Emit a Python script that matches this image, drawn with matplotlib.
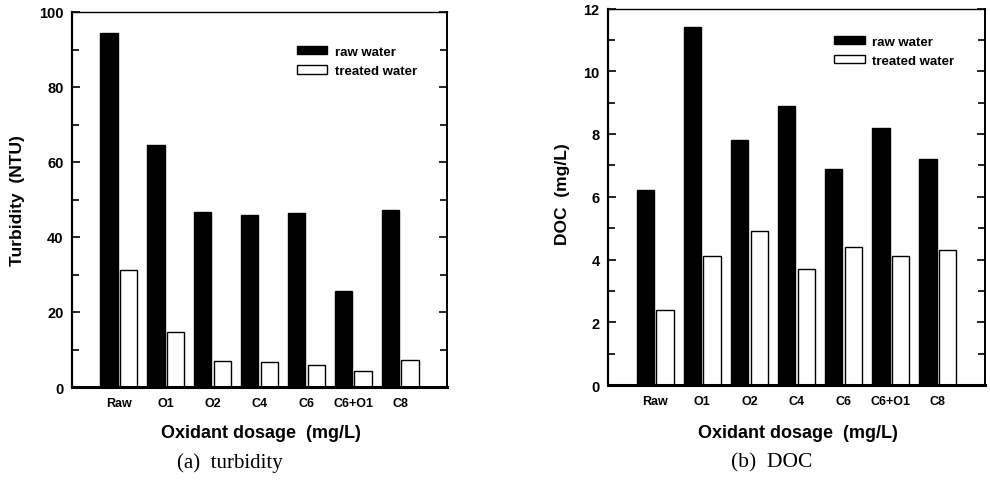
import numpy as np
import matplotlib
matplotlib.use("Agg")
import matplotlib.pyplot as plt
from matplotlib.ticker import MultipleLocator

plt.rcParams['font.family'] = ['Liberation Sans', 'DejaVu Sans']

categories = ['Raw', 'O1', 'O2', 'C4', 'C6', 'C6+O1', 'C8']
turb_raw = [94.5, 64.4, 46.8, 45.8, 46.4, 25.7, 47.3]
turb_treated = [31.2, 14.6, 6.9, 6.6, 6.0, 4.3, 7.2]
doc_raw = [6.2, 11.4, 7.8, 8.9, 6.9, 8.2, 7.2]
doc_treated = [2.4, 4.1, 4.9, 3.7, 4.4, 4.1, 4.3]


def bar_panel(ax, raw, treated, ymax, major, minor, ylabel, leg_top):
    x = np.arange(1, len(categories) + 1)
    w = 0.37
    ax.bar(x - 0.21, raw, w, color='black', edgecolor='black', linewidth=1, label='raw water')
    ax.bar(x + 0.21, treated, w, color='white', edgecolor='black', linewidth=1, label='treated water')
    ax.set_xlim(0, 8)
    ax.set_ylim(0, ymax)
    ax.set_xticks(x)
    ax.set_xticklabels(categories, fontsize=9, fontweight='bold')
    ax.tick_params(axis='x', length=0, pad=7)
    ax.yaxis.set_major_locator(MultipleLocator(major))
    ax.yaxis.set_minor_locator(MultipleLocator(minor))
    ax.tick_params(axis='y', which='both', direction='in', left=True, right=True,
                   width=1.2, labelsize=10.5, pad=6)
    ax.tick_params(axis='y', which='major', length=6)
    ax.tick_params(axis='y', which='minor', length=5)
    for t in ax.get_yticklabels():
        t.set_fontweight('bold')
    ax.spines['bottom'].set_linewidth(2.2)
    ax.spines['left'].set_linewidth(1.6)
    ax.spines['right'].set_linewidth(1.4)
    ax.spines['top'].set_linewidth(1.0)
    ax.set_ylabel(ylabel, fontsize=12.5, fontweight='bold')
    ax.set_xlabel('Oxidant dosage  (mg/L)', fontsize=13, fontweight='bold')
    ax.xaxis.label.set_va('center')
    ax.legend(loc='upper left', bbox_to_anchor=(0.6, leg_top), frameon=False,
              prop={'size': 9.5, 'weight': 'bold'}, handlelength=2.3,
              handleheight=0.6, handletextpad=0.6, labelspacing=0.55,
              borderpad=0, borderaxespad=0)


fig = plt.figure(figsize=(9.9, 4.81), dpi=100)
ax1 = fig.add_axes([72 / 990, 1 - 388 / 481, 375 / 990, 375 / 481])
ax2 = fig.add_axes([608 / 990, 1 - 386 / 481, 377 / 990, 376.5 / 481])

bar_panel(ax1, turb_raw, turb_treated, 100, 20, 10, 'Turbidity  (NTU)', 0.91)
bar_panel(ax2, doc_raw, doc_treated, 12, 2, 1, 'DOC  (mg/L)', 0.928)

ax1.yaxis.set_label_coords(-0.125, 0.5)
ax2.yaxis.set_label_coords(-0.10, 0.51)
ax1.xaxis.set_label_coords(0.505, -0.12)
ax2.xaxis.set_label_coords(0.505, -0.125)

fig.text(230 / 990, 1 - 463 / 481, '(a)  turbidity', family='Liberation Serif',
         fontsize=15, ha='center', va='center')
fig.text(772 / 990, 1 - 463 / 481, '(b)  DOC', family='Liberation Serif',
         fontsize=15.5, ha='center', va='center')

fig.savefig('out.png', dpi=100)
